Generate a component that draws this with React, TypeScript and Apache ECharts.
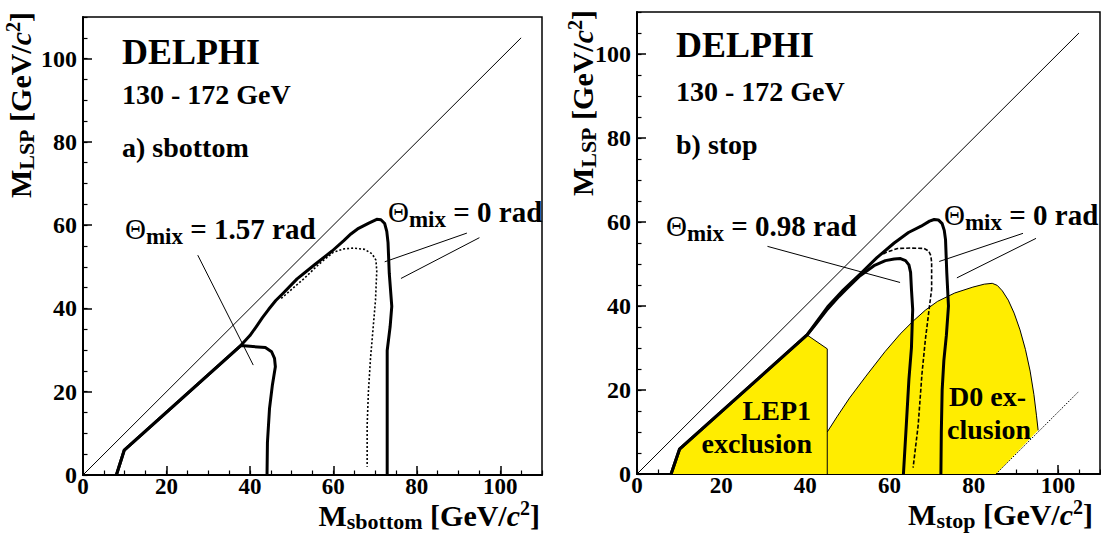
import React, { useEffect, useRef } from "react";
import * as echarts from "echarts";

// ---------- axis ----------
const AXIS_MIN = 0;
const AXIS_MAX = 110;
const MAJOR_STEP = 20;
const MINOR_STEP = 5;

// ---------- panel a) sbottom ----------
const sbDiagonal = [[0, 0], [105, 105]];
const sb157 = [
  [8, 0], [9.9, 6], [37.8, 31.1], [43.7, 30.6], [45.2, 29.6], [45.9, 28], [46.1, 26], [45.4, 21.7],
  [44.7, 16], [44.2, 7.8], [44.1, 0],
];
const sb0Solid = [
  [8, 0], [9.9, 6], [37.8, 31.1], [40, 33.5], [41.5, 35.6], [43, 37.8], [44.5, 39.8], [46.2, 41.9],
  [47.9, 43.6], [51.3, 47.1], [55.5, 50.5], [59.7, 53.8], [62.5, 56.3], [64.2, 57.9], [65.8, 59.1],
  [68.5, 60.5], [70.4, 61.4], [71.4, 61.3], [72.3, 60.4], [72.8, 58.5], [73.1, 55.8], [73.4, 48.4],
  [74, 40.5], [73.6, 35.6], [72.9, 29.9], [72.9, 0],
];
const sb0Dotted = [
  [47.5, 42.4], [50, 44.6], [53, 47.2], [56.5, 50.6], [60, 53.5], [62.5, 54.3], [64.8, 54.5],
  [67.5, 54.2], [69.3, 53.1], [70.2, 51.6], [70.4, 49], [70.1, 42], [69.5, 35], [68.9, 28],
  [68.4, 20], [68.1, 12], [68.1, 2],
];
const sbAnn157 = [[27.5, 52.8], [40.8, 26.4]];
const sbAnn0a = [[92, 58.1], [72.3, 51.2]];
const sbAnn0b = [[95, 57], [76.2, 47.2]];

// ---------- panel b) stop ----------
const stDiagonal = [[0, 0], [105, 105]];
const stKinematic = [[85.3, 0], [105, 19.7]];
const stLep1 = [[8.1, 0], [10.1, 5.9], [40.4, 33.1], [45.2, 29.8], [45.2, 0]];
const stLep1Edge = [[40.4, 33.1], [45.2, 29.8], [45.2, 0]];
const stD0 = [
  [45.2, 0], [45.2, 10], [47.5, 13.6], [50.5, 18.1], [54.4, 23.3], [58.9, 29.1], [62.5, 33.3],
  [65.6, 36.4], [68.5, 39], [71.4, 41.1], [75.5, 43.1], [79.8, 44.5], [82.5, 45.2], [84.4, 45.4],
  [85.6, 44.9], [86.8, 43.6], [88.2, 41.4], [89.6, 38.3], [91, 34.3], [92.3, 29.6], [93.4, 24.5],
  [94.3, 18.9], [94.9, 14], [95.3, 10.4], [85.3, 0],
];
const stD0Edge = stD0.slice(1, stD0.length - 1);
const st0Solid = [
  [8.1, 0], [10.1, 5.9], [40.4, 33.1], [42.5, 36], [45.3, 39.8], [49, 43.8], [53.2, 47.8],
  [57, 51.5], [61.1, 55], [64.5, 57.5], [67.5, 59], [69.5, 60.2], [70.6, 60.6], [71.6, 60.5],
  [72.5, 59.6], [73, 58], [73.3, 55.8], [73.6, 47.9], [74, 40], [73.5, 33], [72.9, 27],
  [72.5, 20], [72.3, 10], [72.2, 0],
];
const st098 = [
  [8.1, 0], [10.1, 5.9], [40.4, 33.1], [42.5, 35.7], [45.3, 39.3], [48, 42.3], [50, 44.3],
  [53, 47.2], [56.3, 49.6], [59, 50.8], [61.1, 51.2], [62.6, 51.3], [63.8, 50.8], [64.6, 49.8],
  [65, 48], [65.2, 44], [65.5, 39.2], [65.2, 30], [64.6, 22.5], [64, 12], [63.3, 0],
];
const st0Dashed = [
  [58.5, 52.4], [59.5, 52.9], [61.9, 53.7], [65, 53.8], [68.2, 53.7], [69.3, 53.1], [69.8, 52],
  [70, 50.4], [70, 44], [69.4, 39.2], [68.5, 31.9], [67.7, 23.8], [66.8, 11.6], [65.6, 1.5],
];
const stAnn098 = [[31, 54.2], [62.5, 45.6]];
const stAnn0a = [[91.7, 57.3], [71.8, 50.6]];
const stAnn0b = [[94.8, 56.1], [76, 46.7]];

// ---------- texts ----------
const EXPERIMENT = "DELPHI";
const ENERGY = "130 - 172 GeV";
const PANEL_A = "a) sbottom";
const PANEL_B = "b) stop";
const MIX_A = "1.57 rad";
const MIX_B = "0.98 rad";
const MIX_ZERO = "0 rad";
const LEP1_LINES = ["LEP1", "exclusion"];
const D0_LINES = ["D0 ex-", "clusion"];

const SERIF = "'Liberation Serif', 'Times New Roman', serif";
const YELLOW = "#ffed00";

function makeAxes(grid: number, axisKind: "x" | "y") {
  const major = {
    type: "value",
    gridIndex: grid,
    position: axisKind === "x" ? "bottom" : "left",
    min: AXIS_MIN,
    max: AXIS_MAX,
    interval: MAJOR_STEP,
    axisLine: { show: true, onZero: false, lineStyle: { color: "#000", width: 2 } },
    axisTick: { show: true, inside: true, length: 9, lineStyle: { color: "#000", width: 1.5 } },
    axisLabel: {
      show: true,
      showMaxLabel: false,
      margin: axisKind === "x" ? 0 : 6,
      color: "#000",
      fontFamily: SERIF,
      fontWeight: "bold",
      fontSize: axisKind === "x" ? 23 : 24,
    },
    splitLine: { show: false },
  };
  const minor = {
    type: "value",
    gridIndex: grid,
    position: axisKind === "x" ? "bottom" : "left",
    min: AXIS_MIN,
    max: AXIS_MAX,
    interval: MINOR_STEP,
    axisLine: { show: false, onZero: false },
    axisTick: { show: true, inside: true, length: 4.5, lineStyle: { color: "#000", width: 1.2 } },
    axisLabel: { show: false },
    splitLine: { show: false },
  };
  return [major, minor];
}

function lineSeries(data: number[][], g: number, width: number, type: any = "solid", z = 3) {
  return {
    type: "line",
    xAxisIndex: g * 2,
    yAxisIndex: g * 2,
    data,
    showSymbol: false,
    symbol: "none",
    silent: true,
    z,
    lineStyle: { color: "#000", width, type, join: "round" },
  };
}

function polySeries(poly: number[][], g: number) {
  return {
    type: "custom",
    xAxisIndex: g * 2,
    yAxisIndex: g * 2,
    silent: true,
    z: 1,
    data: [[0, 0]],
    renderItem: (_p: any, api: any) => ({
      type: "polygon",
      shape: { points: poly.map((pt) => api.coord(pt)) },
      style: { fill: YELLOW, stroke: null },
    }),
  };
}

const bold = (size: number, extra: any = {}) => ({
  fontFamily: SERIF,
  fontWeight: "bold",
  fontSize: size,
  fill: "#000",
  ...extra,
});

function plainText(text: string, x: number, y: number, size: number, align = "left") {
  return {
    type: "text",
    x,
    y,
    z: 50,
    silent: true,
    style: { text, ...bold(size), align, verticalAlign: "middle" },
  };
}

function mixLabel(value: string, x: number, y: number) {
  return {
    type: "text",
    x,
    y,
    z: 50,
    silent: true,
    style: {
      text: `{t|Θ}{s|mix}{a| = ${value}}`,
      align: "left",
      verticalAlign: "middle",
      rich: {
        t: { fontFamily: SERIF, fontSize: 29, fontWeight: "normal", color: "#000", lineHeight: 38 },
        s: { ...bold(23), color: "#000", lineHeight: 23, verticalAlign: "bottom" },
        a: { ...bold(29), color: "#000", lineHeight: 38 },
      },
    },
  };
}

function axisTitle(sub: string, x: number, y: number, rotated: boolean) {
  return {
    type: "text",
    x,
    y,
    z: 50,
    rotation: rotated ? Math.PI / 2 : 0,
    silent: true,
    style: {
      text: `{m|M}{s|${sub}}{m| [GeV/}{i|c}{p|2}{m|]}`,
      align: "right",
      verticalAlign: "middle",
      rich: {
        m: { ...bold(30), color: "#000", lineHeight: 34 },
        i: { ...bold(30), fontStyle: "italic", color: "#000", lineHeight: 34 },
        s: { ...bold(22), color: "#000", lineHeight: 22, verticalAlign: "bottom" },
        p: { ...bold(20), color: "#000", lineHeight: 20, verticalAlign: "top" },
      },
    },
  };
}

export default function App() {
  const ref = useRef<HTMLDivElement>(null);
  useEffect(() => {
    if (!ref.current) return;
    const chart = echarts.init(ref.current, undefined, { renderer: "svg" });
    const option: any = {
      animation: false,
      backgroundColor: "#fff",
      grid: [
        { left: 83, top: 17, width: 459, height: 458, show: true, borderColor: "#000", borderWidth: 1.5, backgroundColor: "transparent" },
        { left: 637, top: 12, width: 463, height: 462, show: true, borderColor: "#000", borderWidth: 1.5, backgroundColor: "transparent" },
      ],
      xAxis: [...makeAxes(0, "x"), ...makeAxes(1, "x")],
      yAxis: [...makeAxes(0, "y"), ...makeAxes(1, "y")],
      series: [
        // panel a
        lineSeries(sbDiagonal, 0, 1),
        lineSeries(sbAnn157, 0, 1),
        lineSeries(sbAnn0a, 0, 1),
        lineSeries(sbAnn0b, 0, 1),
        lineSeries(sb0Dotted, 0, 1.6, [2, 2]),
        lineSeries(sb157, 0, 3, "solid", 4),
        lineSeries(sb0Solid, 0, 3, "solid", 4),
        // panel b
        polySeries(stLep1, 1),
        polySeries(stD0, 1),
        lineSeries(stLep1Edge, 1, 1),
        lineSeries(stD0Edge, 1, 1),
        lineSeries(stKinematic, 1, 1, [1.5, 1.5]),
        lineSeries(stDiagonal, 1, 1),
        lineSeries(stAnn098, 1, 1),
        lineSeries(stAnn0a, 1, 1),
        lineSeries(stAnn0b, 1, 1),
        lineSeries(st0Dashed, 1, 1.6, [4, 2]),
        lineSeries(st098, 1, 3, "solid", 4),
        lineSeries(st0Solid, 1, 3, "solid", 4),
      ],
      graphic: [
        plainText(EXPERIMENT, 122, 52, 36),
        plainText(ENERGY, 122, 94, 28),
        plainText(PANEL_A, 122, 147, 28),
        plainText(EXPERIMENT, 676, 45, 36),
        plainText(ENERGY, 676, 91, 28),
        plainText(PANEL_B, 676, 144, 28),
        mixLabel(MIX_A, 125, 229),
        mixLabel(MIX_ZERO, 388, 212),
        mixLabel(MIX_B, 666, 226),
        mixLabel(MIX_ZERO, 944, 215),
        plainText(LEP1_LINES[0], 811, 410, 28, "right"),
        plainText(LEP1_LINES[1], 812, 443, 28, "right"),
        plainText(D0_LINES[0], 949, 396, 28),
        plainText(D0_LINES[1], 947, 429, 28),
        axisTitle("LSP", 20, 12, true),
        axisTitle("sbottom", 540, 515, false),
        axisTitle("LSP", 582, 10, true),
        axisTitle("stop", 1093, 514, false),
      ],
    };
    chart.setOption(option);
    return () => chart.dispose();
  }, []);
  return (
    <div
      ref={ref}
      style={{ position: "fixed", left: 0, top: 0, width: 1101, height: 534, background: "#fff" }}
    />
  );
}
